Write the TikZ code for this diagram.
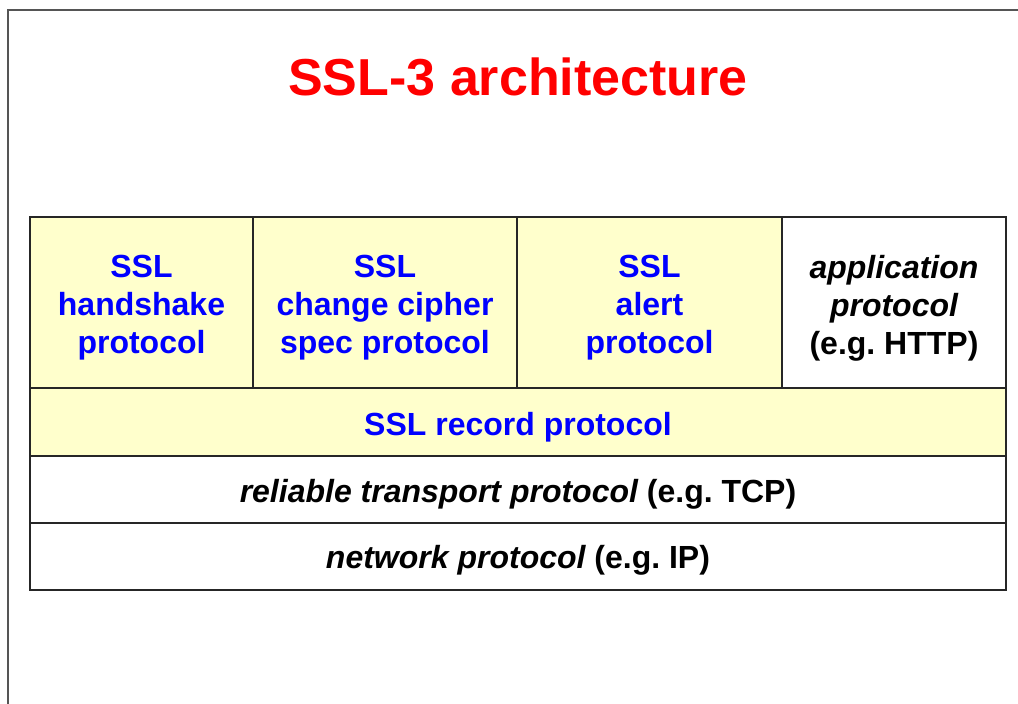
\documentclass[tikz,border=0pt]{standalone}
\usepackage{fontspec}
\setmainfont{Liberation Sans}
\definecolor{layerfill}{HTML}{FFFFCC}
\definecolor{sslblue}{HTML}{0000FF}
\definecolor{titlered}{HTML}{FF0000}
\definecolor{framegray}{HTML}{555555}
\frenchspacing
\begin{document}
\begin{tikzpicture}[x=1pt,y=-1pt,
  layer/.style={draw=black!85,line width=1.2pt,inner sep=0pt,outer sep=0pt},
  ssl/.style={layer,fill=layerfill},
  plain/.style={layer,fill=white},
  lbl/.style={align=center,font=\fontsize{32}{38}\selectfont\bfseries},
  blue/.style={lbl,text=sslblue}]
\useasboundingbox (0,0) rectangle (1018,704);
% slide frame
\draw[framegray,line width=2pt] (8,704) -- (8,10) -- (1018,10);
% title
\node[text=titlered,font=\fontsize{52}{58}\selectfont\bfseries] (title) at (518,77) {SSL-3 architecture};
% upper row of protocols
\draw[ssl] (30,217) rectangle (253,388);
\draw[ssl] (253,217) rectangle (517,388);
\draw[ssl] (517,217) rectangle (782,388);
\draw[plain] (782,217) rectangle (1006,388);
\node[blue] (hs) at (141.5,308) {SSL\\handshake\\protocol};
\node[blue] (ccs) at (385,308) {SSL\\change cipher\\spec protocol};
\node[blue] (alert) at (649.5,308) {SSL\\alert\\protocol};
\node[lbl] (app) at (894,308) {\itshape application\\\itshape protocol\\(e.g. HTTP)};
% record layer
\draw[ssl] (30,388) rectangle (1006,456);
\node[blue] (rec) at (518,427) {SSL record protocol};
% transport layer
\draw[plain] (30,456) rectangle (1006,523);
\node[lbl] (tcp) at (518,494) {\itshape reliable transport protocol\upshape{} (e.g. TCP)};
% network layer
\draw[plain] (30,523) rectangle (1006,590);
\node[lbl] (ip) at (518,560) {\itshape network protocol\upshape{} (e.g. IP)};
\end{tikzpicture}
\end{document}
